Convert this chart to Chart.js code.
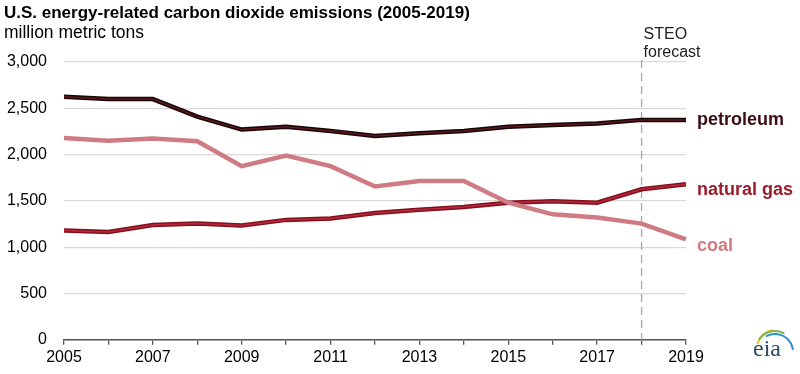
<!DOCTYPE html>
<html>
<head>
<meta charset="utf-8">
<script src="https://cdn.jsdelivr.net/npm/chart.js@4/dist/chart.umd.min.js"></script>
<style>
html,body{margin:0;padding:0;background:#fff;}
#wrap{width:800px;height:374px;position:relative;}
</style>
</head>
<body>
<div id="wrap"><canvas id="c" width="800" height="374"></canvas></div>
<script>
const years = ['2005','2006','2007','2008','2009','2010','2011','2012','2013','2014','2015','2016','2017','2018','2019'];
const petroleum = [2625,2600,2600,2410,2270,2300,2255,2200,2230,2255,2300,2320,2335,2375,2375];
const naturalGas = [1180,1165,1240,1255,1235,1295,1310,1370,1405,1435,1480,1495,1480,1625,1680];
const coal = [2180,2150,2175,2145,1875,1990,1875,1655,1715,1715,1480,1355,1320,1255,1085];
const yTicks = [0,500,1000,1500,2000,2500,3000];
const seriesLabels = ['petroleum','natural gas','coal'];
const forecastYear = '2018';

const FONT = '"Liberation Sans", Arial, sans-serif';

const overlay = {
  id: 'overlay',
  beforeDatasetsDraw(chart) {
    const ctx = chart.ctx, x = chart.scales.x, y = chart.scales.y;
    const fx = x.getPixelForValue(years.indexOf(forecastYear));
    ctx.save();
    ctx.strokeStyle = '#a6a6a6';
    ctx.lineWidth = 1.3;
    ctx.setLineDash([8,5]);
    ctx.beginPath();
    ctx.moveTo(fx, 60);
    ctx.lineTo(fx, y.bottom);
    ctx.stroke();
    ctx.restore();
  },
  afterDraw(chart) {
    const ctx = chart.ctx, x = chart.scales.x, y = chart.scales.y;
    ctx.save();
    ctx.textBaseline = 'alphabetic';
    ctx.fillStyle = '#000';
    ctx.font = 'bold 17px ' + FONT;
    ctx.fillText('U.S. energy-related carbon dioxide emissions (2005-2019)', 4, 18);
    ctx.font = '17.5px ' + FONT;
    ctx.fillText('million metric tons', 4, 38);
    // forecast label
    const fx = x.getPixelForValue(years.indexOf(forecastYear));
    ctx.fillStyle = '#222';
    ctx.font = '16px ' + FONT;
    ctx.fillText('STEO', fx + 2, 39);
    ctx.fillText('forecast', fx + 2, 57);
    // series labels
    const last = years.length - 1;
    const lx = x.right + 11;
    ctx.font = 'bold 18px ' + FONT;
    ctx.textBaseline = 'middle';
    ctx.fillStyle = '#3d0c11';
    ctx.fillText(seriesLabels[0], lx, y.getPixelForValue(petroleum[last]) + 0);
    ctx.fillStyle = '#9b1c2c';
    ctx.fillText(seriesLabels[1], lx, y.getPixelForValue(naturalGas[last]) + 6);
    ctx.fillStyle = '#d07a80';
    ctx.fillText(seriesLabels[2], lx, y.getPixelForValue(coal[last]) + 7);
    // eia logo
    const cx = 767, cy = 346;
    ctx.lineCap = 'round';
    ctx.lineWidth = 2;
    ctx.strokeStyle = '#f2c230';
    ctx.beginPath(); ctx.arc(cx+8, cy+2, 18, Math.PI*1.08, Math.PI*1.45); ctx.stroke();
    ctx.strokeStyle = '#7ab648';
    ctx.beginPath(); ctx.arc(cx+8, cy+4, 19, Math.PI*1.2, Math.PI*1.65); ctx.stroke();
    ctx.strokeStyle = '#2a8fd0';
    ctx.beginPath(); ctx.arc(cx+8, cy+6, 18, Math.PI*1.35, Math.PI*1.95); ctx.stroke();
    ctx.fillStyle = '#2c4a66';
    ctx.font = '24px "Liberation Serif", "DejaVu Serif", serif';
    ctx.textBaseline = 'alphabetic';
    ctx.textAlign = 'center';
    ctx.fillText('eia', cx, 356);
    ctx.restore();
  }
};

new Chart(document.getElementById('c'), {
  type: 'line',
  data: {
    labels: years,
    datasets: [
      { label: 'petroleum-outline', data: petroleum, borderColor: '#1a0606', borderWidth: 4.5, pointRadius: 0, tension: 0, order: 6 },
      { label: 'petroleum', data: petroleum, borderColor: '#5b1a22', borderWidth: 1.5, pointRadius: 0, tension: 0, order: 5 },
      { label: 'natural-outline', data: naturalGas, borderColor: '#84101e', borderWidth: 4.5, pointRadius: 0, tension: 0, order: 4 },
      { label: 'natural gas', data: naturalGas, borderColor: '#b52a3a', borderWidth: 1.5, pointRadius: 0, tension: 0, order: 3 },
      { label: 'coal', data: coal, borderColor: '#cf7b83', borderWidth: 4.5, pointRadius: 0, tension: 0, order: 2 }
    ]
  },
  options: {
    responsive: false,
    animation: false,
    layout: { padding: { top: 62, right: 114, left: 4, bottom: 4 } },
    plugins: { legend: { display: false }, tooltip: { enabled: false }, title: { display: false } },
    scales: {
      x: {
        type: 'category',
        offset: false,
        grid: { drawOnChartArea: false, drawTicks: true, tickLength: 5, color: '#555', lineWidth: 1.3 },
        border: { display: true, color: '#555', width: 1.5 },
        ticks: {
          autoSkip: false, maxRotation: 0, color: '#000', padding: 3,
          font: { family: FONT, size: 16 },
          callback: function(v, i) { return i % 2 === 0 ? years[i] : ''; }
        }
      },
      y: {
        min: 0, max: 3000,
        afterBuildTicks: (axis) => { axis.ticks = yTicks.map(v => ({ value: v })); },
        afterFit: (axis) => { axis.width = 60; },
        grid: { color: '#d9d9d9', lineWidth: 1.3, drawTicks: false },
        border: { display: false },
        ticks: {
          color: '#000', padding: 17,
          font: { family: FONT, size: 16 },
          callback: (v) => v.toLocaleString('en-US')
        }
      }
    }
  },
  plugins: [overlay]
});
</script>
</body>
</html>
